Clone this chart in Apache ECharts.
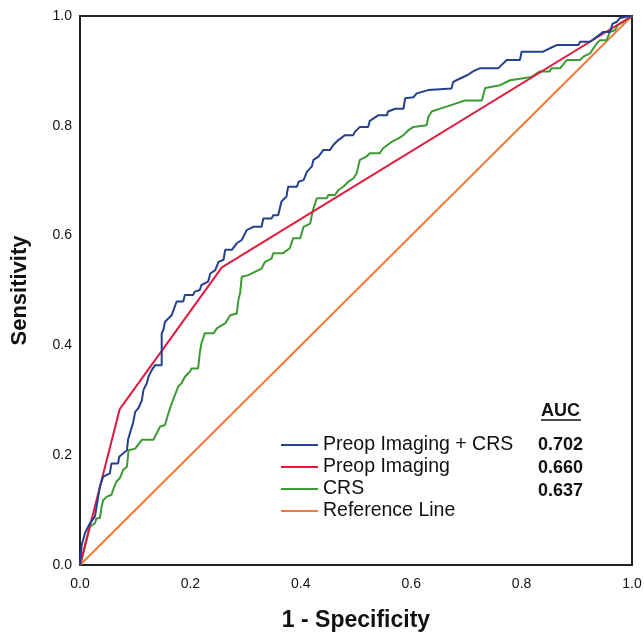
<!DOCTYPE html>
<html>
<head>
<meta charset="utf-8">
<script src="https://cdn.jsdelivr.net/npm/echarts@6/dist/echarts.min.js"></script>
<style>
html,body{margin:0;padding:0;background:#fff;}
#chart{width:644px;height:633px;}
</style>
</head>
<body>
<div id="chart"></div>
<script>
var seriesNames = ['Preop Imaging + CRS', 'Preop Imaging', 'CRS', 'Reference Line'];
var aucValues = ['0.702', '0.660', '0.637'];
var tickValues = [0, 0.2, 0.4, 0.6, 0.8, 1.0];

var combinedROC = [[0,0],[0.003,0.036],[0.009,0.058],[0.018,0.076],[0.027,0.088],[0.030,0.106],[0.036,0.143],[0.042,0.161],[0.054,0.167],[0.057,0.185],[0.069,0.185],[0.071,0.197],[0.078,0.203],[0.085,0.209],[0.087,0.228],[0.094,0.252],[0.096,0.258],[0.100,0.279],[0.106,0.286],[0.112,0.300],[0.115,0.319],[0.121,0.331],[0.124,0.343],[0.130,0.355],[0.136,0.364],[0.148,0.364],[0.148,0.422],[0.151,0.428],[0.154,0.443],[0.160,0.449],[0.166,0.455],[0.169,0.463],[0.175,0.480],[0.187,0.480],[0.190,0.492],[0.205,0.492],[0.208,0.498],[0.217,0.501],[0.220,0.510],[0.232,0.516],[0.236,0.531],[0.245,0.537],[0.251,0.552],[0.260,0.556],[0.263,0.574],[0.275,0.574],[0.284,0.586],[0.293,0.592],[0.302,0.610],[0.314,0.616],[0.329,0.616],[0.332,0.631],[0.347,0.631],[0.350,0.637],[0.359,0.637],[0.365,0.662],[0.374,0.671],[0.377,0.689],[0.393,0.689],[0.396,0.698],[0.405,0.701],[0.411,0.716],[0.420,0.726],[0.423,0.738],[0.432,0.744],[0.441,0.756],[0.453,0.756],[0.459,0.765],[0.468,0.774],[0.480,0.783],[0.495,0.783],[0.498,0.789],[0.507,0.798],[0.522,0.798],[0.525,0.809],[0.540,0.819],[0.556,0.819],[0.558,0.826],[0.571,0.831],[0.586,0.831],[0.589,0.850],[0.604,0.852],[0.610,0.859],[0.631,0.865],[0.634,0.868],[0.673,0.868],[0.676,0.880],[0.682,0.883],[0.703,0.893],[0.712,0.899],[0.725,0.905],[0.758,0.905],[0.773,0.920],[0.797,0.920],[0.800,0.935],[0.839,0.935],[0.857,0.944],[0.864,0.947],[0.903,0.947],[0.906,0.953],[0.924,0.953],[0.936,0.962],[0.948,0.971],[0.960,0.971],[0.965,0.986],[0.972,0.989],[0.978,0.996],[0.987,0.998],[1,1]];

var imagingROC = [[0,0],[0.072,0.284],[0.257,0.542],[1,1]];

var crsROC = [[0,0],[0.003,0.002],[0.006,0.021],[0.012,0.046],[0.018,0.070],[0.027,0.076],[0.030,0.085],[0.036,0.085],[0.039,0.106],[0.042,0.118],[0.048,0.124],[0.057,0.128],[0.060,0.137],[0.066,0.152],[0.072,0.158],[0.078,0.173],[0.085,0.179],[0.088,0.209],[0.100,0.212],[0.112,0.228],[0.133,0.228],[0.139,0.240],[0.145,0.252],[0.154,0.255],[0.160,0.276],[0.166,0.294],[0.172,0.310],[0.178,0.325],[0.184,0.331],[0.190,0.343],[0.199,0.352],[0.202,0.358],[0.214,0.358],[0.217,0.386],[0.220,0.404],[0.226,0.422],[0.242,0.422],[0.248,0.431],[0.257,0.437],[0.263,0.440],[0.272,0.455],[0.284,0.458],[0.287,0.483],[0.290,0.495],[0.293,0.525],[0.305,0.528],[0.317,0.534],[0.329,0.540],[0.335,0.552],[0.347,0.558],[0.350,0.568],[0.368,0.568],[0.380,0.577],[0.386,0.595],[0.399,0.595],[0.405,0.616],[0.417,0.622],[0.420,0.637],[0.423,0.650],[0.429,0.668],[0.447,0.668],[0.450,0.674],[0.462,0.674],[0.468,0.683],[0.477,0.689],[0.486,0.698],[0.495,0.704],[0.501,0.713],[0.507,0.738],[0.519,0.744],[0.525,0.750],[0.543,0.750],[0.549,0.759],[0.565,0.771],[0.577,0.777],[0.586,0.783],[0.595,0.792],[0.604,0.798],[0.628,0.801],[0.631,0.816],[0.637,0.826],[0.661,0.834],[0.679,0.840],[0.697,0.846],[0.728,0.846],[0.734,0.869],[0.761,0.874],[0.779,0.883],[0.818,0.889],[0.833,0.899],[0.851,0.899],[0.854,0.905],[0.870,0.905],[0.882,0.920],[0.906,0.920],[0.912,0.926],[0.924,0.932],[0.936,0.950],[0.942,0.956],[0.954,0.956],[0.960,0.971],[0.969,0.974],[0.975,0.984],[0.984,0.989],[1,1]];

var referenceLine = [[0,0],[1,1]];

var colors = ['#24408E', '#E3183F', '#3C9A32', '#F47B36'];
var FONT = '"Liberation Sans", Arial, sans-serif';

var chart = echarts.init(document.getElementById('chart'), null, {renderer: 'canvas'});

function lineSeries(name, data, color, z) {
  return {
    name: name, type: 'line', data: data, showSymbol: false, symbol: 'none',
    lineStyle: {color: color, width: 2}, itemStyle: {color: color},
    z: z, animation: false, silent: true
  };
}

var option = {
  backgroundColor: '#fff',
  animation: false,
  grid: {left: 80, right: 12, top: 16, bottom: 68, show: true, borderColor: '#222', borderWidth: 2,
    containLabel: false, outerBoundsMode: 'none'},
  xAxis: {
    type: 'value', min: 0, max: 1, interval: 0.2,
    axisLine: {show: true, lineStyle: {color: '#222', width: 2}},
    axisTick: {show: false}, splitLine: {show: false},
    axisLabel: {color: '#111', fontFamily: FONT, fontSize: 14, margin: 12,
      formatter: function (v) { return v.toFixed(1); }},
    name: '1 - Specificity', nameLocation: 'middle', nameGap: 44,
    nameTextStyle: {color: '#111', fontFamily: FONT, fontSize: 23, fontWeight: 'bold'}
  },
  yAxis: {
    type: 'value', min: 0, max: 1, interval: 0.2,
    axisLine: {show: true, lineStyle: {color: '#222', width: 2}},
    axisTick: {show: false}, splitLine: {show: false},
    axisLabel: {color: '#111', fontFamily: FONT, fontSize: 14, margin: 8,
      formatter: function (v) { return v.toFixed(1); }},
    name: 'Sensitivity', nameLocation: 'middle', nameGap: 49,
    nameTextStyle: {color: '#111', fontFamily: FONT, fontSize: 22, fontWeight: 'bold'}
  },
  legend: {
    data: seriesNames, orient: 'vertical', left: 281, top: 435, padding: 0,
    icon: 'rect', itemWidth: 37, itemHeight: 2, itemGap: 2, itemTextGap: 5,
    textStyle: {color: '#111', fontFamily: FONT, fontSize: 19.5, lineHeight: 20},
    selectedMode: false
  },
  graphic: [
    {type: 'text', left: 541, top: 402, style: {text: 'AUC', fill: '#111', font: 'bold 18px ' + FONT}},
    {type: 'line', shape: {x1: 541, y1: 420, x2: 581, y2: 420}, style: {stroke: '#111', lineWidth: 1.5}},
    {type: 'text', left: 538, top: 436, style: {text: aucValues[0], fill: '#111', font: 'bold 18px ' + FONT}},
    {type: 'text', left: 538, top: 459, style: {text: aucValues[1], fill: '#111', font: 'bold 18px ' + FONT}},
    {type: 'text', left: 538, top: 482, style: {text: aucValues[2], fill: '#111', font: 'bold 18px ' + FONT}}
  ],
  series: [
    lineSeries(seriesNames[3], referenceLine, colors[3], 1),
    lineSeries(seriesNames[2], crsROC, colors[2], 2),
    lineSeries(seriesNames[1], imagingROC, colors[1], 3),
    lineSeries(seriesNames[0], combinedROC, colors[0], 4)
  ]
};
chart.setOption(option);
</script>
</body>
</html>
